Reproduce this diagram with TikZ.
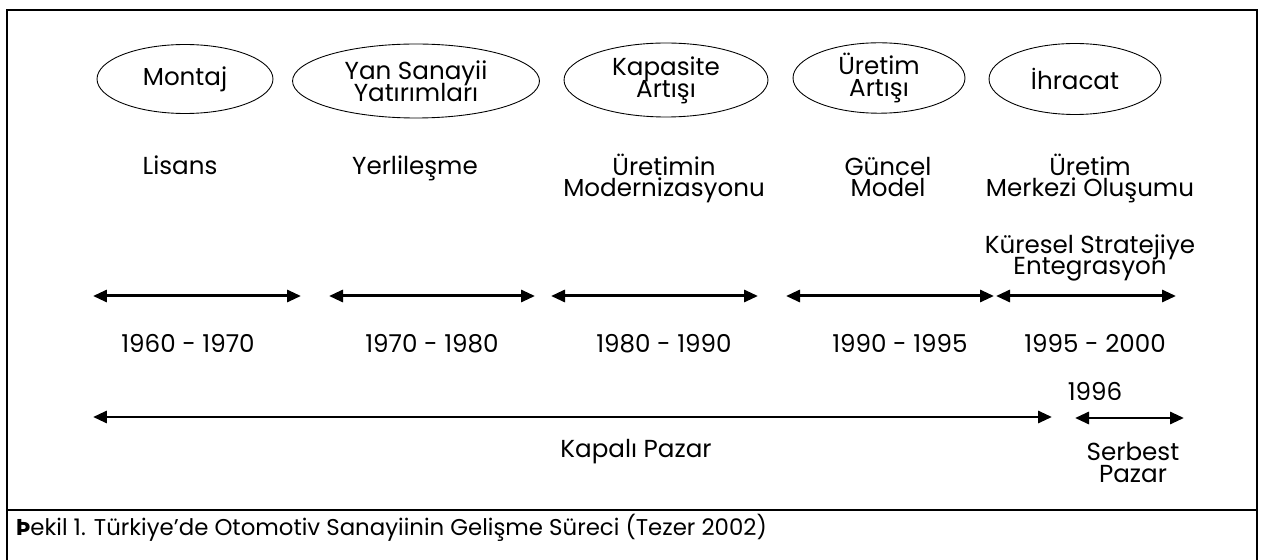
\documentclass[tikz,border=0pt]{standalone}
\usepackage{fontspec}
\setmainfont{Poppins}
\usetikzlibrary{shapes.geometric, arrows.meta}

\newcommand\phasefont{\fontsize{14}{12.5}\selectfont\lineskiplimit -20pt\relax}
\newcommand\captionfont{\fontsize{13}{15}\selectfont}

\tikzset{
    phase/.style  = {ellipse, draw, line width = 0.5pt, inner sep = 0pt},
    period/.style = {{Triangle[length = 0.28cm, width = 0.24cm]}-{Triangle[length = 0.28cm, width = 0.24cm]}, line width = 0.06cm},
    frame/.style  = {line width = 0.05cm}
}

\begin{document}
\begin{tikzpicture}[x = 0.02cm, y = -0.02cm, align = center, font = \phasefont]
                    \useasboundingbox (0, 0) rectangle (1271, 560);
                    \draw[frame] (7, 565) |- (1257, 10) -- (1257, 565);
                    \draw[frame] (7, 510) -- (1257, 510);

                    \node[phase, minimum width = 3.52cm, minimum height = 1.38cm] (Montaj)   at ( 185,  79) {Montaj};
                    \node[phase, minimum width = 4.94cm, minimum height = 1.48cm] (YanSan)   at ( 416,  81) {Yan Sanayii\\Yatırımları};
                    \node[phase, minimum width = 4.08cm, minimum height = 1.48cm] (Kapasite) at ( 666,  80) {Kapasite\\Artışı};
                    \node[phase, minimum width = 3.44cm, minimum height = 1.40cm] (UrArtis)  at ( 879,  78) {Üretim\\Artışı};
                    \node[phase, minimum width = 3.44cm, minimum height = 1.42cm] (Ihracat)  at (1075,  79) {İhracat};

                    \node[anchor = base] (Lisans)   at ( 180, 175) {Lisans};
                    \node[anchor = base] (Yerli)    at ( 415, 175) {Yerlileşme};
                    \node[anchor = base] (Modern)   at ( 664, 197) {Üretimin\\Modernizasyonu};
                    \node[anchor = base] (Guncel)   at ( 888, 197) {Güncel\\Model};
                    \node[anchor = base] (Merkez)   at (1090, 197) {Üretim\\Merkezi Oluşumu};
                    \node[anchor = base] (Kuresel)  at (1090, 275) {Küresel Stratejiye\\Entegrasyon};

                    \coordinate (p1w) at (  93, 296);
                    \coordinate (p1e) at ( 301, 296);
                    \coordinate (p2w) at ( 329, 296);
                    \coordinate (p2e) at ( 535, 296);
                    \coordinate (p3w) at ( 551, 296);
                    \coordinate (p3e) at ( 758, 296);
                    \coordinate (p4w) at ( 786, 296);
                    \coordinate (p4e) at ( 994, 296);
                    \coordinate (p5w) at ( 996, 296);
                    \coordinate (p5e) at (1176, 296);

                    \draw[period] (p1w) -- (p1e);
                    \draw[period] (p2w) -- (p2e);
                    \draw[period] (p3w) -- (p3e);
                    \draw[period] (p4w) -- (p4e);
                    \draw[period] (p5w) -- (p5e);

                    \node[anchor = base] (y1) at ( 188, 353) {1960 - 1970};
                    \node[anchor = base] (y2) at ( 432, 353) {1970 - 1980};
                    \node[anchor = base] (y3) at ( 664, 353) {1980 - 1990};
                    \node[anchor = base] (y4) at ( 900, 353) {1990 - 1995};
                    \node[anchor = base] (y5) at (1095, 353) {1995 - 2000};

                    \node[anchor = base] (y96) at (1095, 400) {1996};

                    \coordinate (kw) at (  93, 417);
                    \coordinate (ke) at (1052, 417);
                    \coordinate (sw) at (1075, 418);
                    \coordinate (se) at (1184, 418);

                    \draw[period] (kw) -- (ke);
                    \draw[period] (sw) -- (se);

                    \node[anchor = base] (Kapali)  at ( 636, 458) {Kapalı Pazar};
                    \node[anchor = base] (Serbest) at (1133, 482) {Serbest\\Pazar};

                    \node[anchor = base west, font = \captionfont] (Caption) at (10, 535)
                        {\textbf{Þ}ekil 1. Türkiye’de Otomotiv Sanayiinin Gelişme Süreci (Tezer 2002)};
                \end{tikzpicture}
\end{document}
